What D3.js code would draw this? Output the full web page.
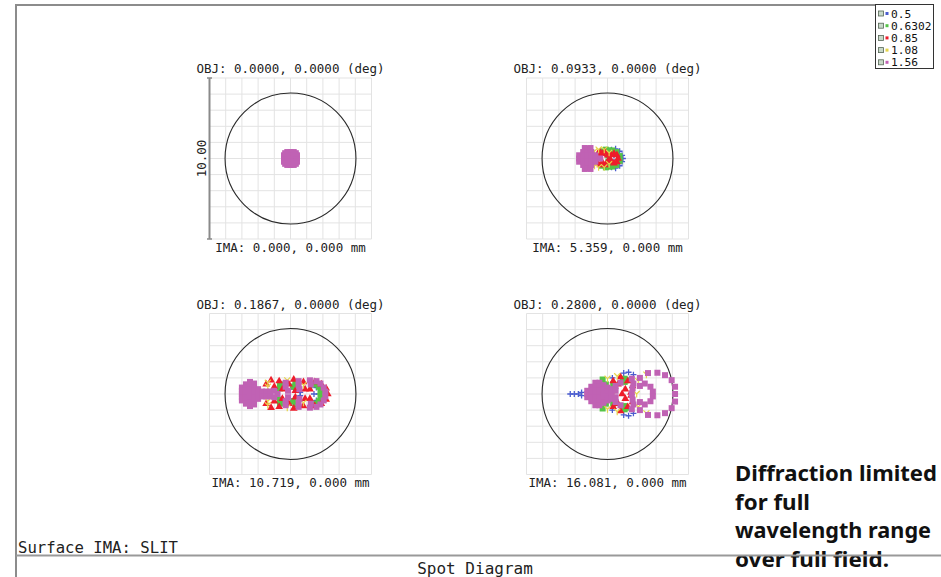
<!DOCTYPE html>
<html><head><meta charset="utf-8">
<script src="https://cdn.jsdelivr.net/npm/d3@7"></script>
<style>
html,body{margin:0;padding:0;background:#fff;}
svg{display:block;}
</style></head>
<body>
<svg id="c" width="941" height="577"></svg>
<script>
// ---------- data ----------
const wavelengths = ["0.5", "0.6302", "0.85", "1.08", "1.56"];
const objLabels = ["OBJ: 0.0000, 0.0000 (deg)", "OBJ: 0.0933, 0.0000 (deg)", "OBJ: 0.1867, 0.0000 (deg)", "OBJ: 0.2800, 0.0000 (deg)"];
const imaLabels = ["IMA: 0.000, 0.000 mm", "IMA: 5.359, 0.000 mm", "IMA: 10.719, 0.000 mm", "IMA: 16.081, 0.000 mm"];
const scaleBarLabel = "10.00";
const airyRadius = [4.04, 4.04, 4.04, 4.04];   // µm
const boxHalf = 5;                              // µm (box = 10.00 µm)
const surfaceLabel = "Surface IMA: SLIT";
const chartTitle = "Spot Diagram";
const noteLines = ["Diffraction limited", "for full", "wavelength range", "over full field."];

// spot coordinates in µm, [x, y]
const f1w1 = [[-0.2,-0.2],[0.2,-0.2],[-0.2,0.2],[0.2,0.2],[0,0]];
const f1w2 = [[-0.25,0],[0.25,0],[0,-0.25],[0,0.25],[0,0]];
const f1w3 = [[-0.3,-0.1],[0.3,0.1],[0.1,-0.3],[-0.1,0.3]];
const f1w4 = [[-0.2,0],[0.2,0],[0,0.2],[0,-0.2]];
const f1w5 = [[-0.4,-0.2],[-0.4,0],[-0.4,0.2],[-0.2,-0.4],[-0.2,-0.2],[-0.2,0],[-0.2,0.2],[-0.2,0.4],[0,-0.4],[0,-0.2],[0,0],[0,0.2],[0,0.4],[0.2,-0.4],[0.2,-0.2],[0.2,0],[0.2,0.2],[0.2,0.4],[0.4,-0.2],[0.4,0],[0.4,0.2],[-0.33,-0.33],[0.33,-0.33],[-0.33,0.33],[0.33,0.33]];

const f2w1 = [[0.25,-0.55],[0.25,0.55],[0.5,-0.6],[0.5,0.6],[0.75,-0.45],[0.75,0.45],[0.9,-0.2],[0.9,0.2],[0.95,0],[0.4,-0.2],[0.4,0.2]];
const f2w2 = [[-0.35,-0.45],[-0.35,0.45],[-0.1,-0.55],[-0.1,0.55],[0.1,-0.5],[0.1,0.5],[0.3,-0.5],[0.3,0.5],[0.55,-0.4],[0.55,0.4],[0.75,-0.15],[0.75,0.15],[0.7,0],[0.05,-0.2],[0.05,0.2]];
const f2w3 = [[-0.6,-0.3],[-0.6,0.3],[-0.45,-0.4],[-0.45,0],[-0.45,0.4],[-0.3,-0.3],[-0.3,0.3],[-0.15,-0.4],[-0.15,0.4],[0,-0.2],[0,0.2],[0.15,0],[0.22,-0.22],[0.22,0.22],[0.4,-0.3],[0.4,0.3],[0.58,-0.22],[0.58,0.22],[0.65,0]];
const f2w4 = [[-0.8,-0.45],[-0.8,0.45],[-0.55,-0.55],[-0.55,0.55],[-0.2,-0.55],[-0.2,0.55],[0.1,-0.35],[0.1,0.35]];
const f2w5 = [[-1.75,-0.2],[-1.75,0],[-1.75,0.2],[-1.5,-0.4],[-1.5,-0.2],[-1.5,0],[-1.5,0.2],[-1.5,0.4],[-1.4,-0.65],[-1.4,0.65],[-1.25,-0.6],[-1.25,-0.4],[-1.25,-0.2],[-1.25,0],[-1.25,0.2],[-1.25,0.4],[-1.25,0.6],[-1.05,-0.65],[-1.05,0.65],[-1.0,-0.4],[-1.0,-0.2],[-1.0,0],[-1.0,0.2],[-1.0,0.4],[-0.75,-0.2],[-0.75,0],[-0.75,0.2],[-0.45,0]];

const f3w1 = [[0.2,-0.6],[0.2,-0.3],[0.2,0.3],[0.2,0.6],[0.6,-0.1],[0.6,0.1],[1.3,-0.45],[1.3,0.45],[1.6,-0.4],[1.6,0.4],[1.75,0],[1.45,0]];
const f3w2 = [[-0.65,-0.6],[-0.65,-0.35],[-0.65,0.35],[-0.65,0.6],[0.15,-0.45],[0.15,0.45],[0.3,-0.65],[0.3,0.65],[1.45,-0.6],[1.45,0.6],[1.75,-0.45],[1.75,0.45],[1.85,-0.15],[1.85,0.15]];
const f3w3 = [[-1.5,-0.6],[-1.5,0.6],[-1.2,-0.85],[-1.2,0.85],[-1.0,-0.45],[-1.0,0.45],[-0.7,-0.8],[-0.7,0.8],[-0.5,-0.3],[-0.5,0.3],[-0.1,-0.6],[-0.1,0.6],[0.2,-0.9],[0.2,0.9],[0.3,-0.2],[0.3,0.2],[0.8,-0.75],[0.8,0.75],[0.9,-0.3],[0.9,0.3],[1.5,-0.75],[1.9,-0.6],[2.2,-0.35],[2.3,0],[2.2,0.35],[1.9,0.6],[1.5,0.75],[1.2,-0.3],[1.2,0.3]];
const f3w4 = [[-1.4,-0.7],[-1.4,-0.45],[-1.4,0.45],[-1.4,0.7],[-1.55,0],[-0.2,-0.85],[-0.2,0.85],[0.8,-0.55],[0.8,0.55]];
const f3w5 = [[-3.0,-0.4],[-3.0,-0.2],[-3.0,0],[-3.0,0.2],[-3.0,0.4],[-2.75,-0.6],[-2.75,-0.4],[-2.75,-0.2],[-2.75,0],[-2.75,0.2],[-2.75,0.4],[-2.75,0.6],[-2.5,-0.75],[-2.5,-0.5],[-2.5,-0.25],[-2.5,0],[-2.5,0.25],[-2.5,0.5],[-2.5,0.75],[-2.25,-0.65],[-2.25,-0.4],[-2.25,-0.2],[-2.25,0],[-2.25,0.2],[-2.25,0.4],[-2.25,0.65],[-2.0,-0.3],[-2.0,0],[-2.0,0.3],[-1.75,-0.15],[-1.75,0.15],[-1.5,-0.15],[-1.5,0.15],[-1.25,-0.15],[-1.25,0.15],[-1.0,-0.2],[-1.0,0.2],[-0.8,0],[-0.3,-0.7],[-0.3,-0.45],[-0.3,0.45],[-0.3,0.7],[-0.15,-0.2],[-0.15,0.2],[0.5,-0.8],[0.5,-0.55],[0.55,-0.3],[0.55,0.3],[0.5,0.55],[0.5,0.8],[1.2,-0.85],[1.25,-0.6],[1.25,0.6],[1.2,0.85],[1.6,-0.8],[1.85,-0.65],[2.05,-0.4],[2.15,-0.15],[2.15,0.15],[2.05,0.4],[1.85,0.65],[1.6,0.8]];

const f4w1 = [[-2.3,0],[-2.05,0],[-1.8,0],[-1.6,-0.1],[-1.6,0.1],[1.0,-1.3],[1.3,-1.35],[1.6,-1.2],[1.0,1.3],[1.3,1.35],[1.6,1.2],[0.3,-1.0],[0.3,1.0]];
const f4w2 = [[1.06,-0.95],[1.06,-0.75],[0.95,-0.85],[1.15,-0.85],[1.06,0.95],[1.06,0.75],[0.95,0.85],[1.15,0.85],[0.2,-0.3],[0.2,0.3],[0.35,-0.6],[0.35,0.6],[-0.3,-0.9],[-0.3,0.9],[-0.1,-0.6],[-0.1,0.6]];
const f4w3 = [[0.35,-0.8],[0.65,-0.6],[1.25,-0.8],[1.55,-0.5],[1.1,-0.3],[1.1,0.3],[0.35,0.8],[0.65,0.6],[1.25,0.8],[1.55,0.5],[0.8,-1.05],[0.8,1.05],[0.9,0],[1.45,0.1],[1.45,-0.1]];
const f4w4 = [[0.0,-0.95],[0.0,0.95],[0.6,-1.1],[0.6,1.1],[1.9,-0.8],[1.9,0.8],[2.4,-1.2],[2.4,1.2],[1.8,0],[0.4,0]];
const f4w5 = [[-1.25,-0.2],[-1.25,0],[-1.25,0.2],[-1.0,-0.45],[-1.0,-0.2],[-1.0,0],[-1.0,0.2],[-1.0,0.45],[-0.75,-0.7],[-0.75,-0.45],[-0.75,-0.2],[-0.75,0],[-0.75,0.2],[-0.75,0.45],[-0.75,0.7],[-0.5,-0.7],[-0.5,-0.45],[-0.5,-0.2],[-0.5,0],[-0.5,0.2],[-0.5,0.45],[-0.5,0.7],[-0.25,-0.55],[-0.25,-0.3],[-0.25,0],[-0.25,0.3],[-0.25,0.55],[0.0,-0.4],[0.0,-0.15],[0.0,0.15],[0.0,0.4],[0.25,-0.3],[0.25,0],[0.25,0.3],[0.5,-0.5],[0.5,-0.2],[0.5,0.2],[0.5,0.5],[0.8,-0.7],[0.8,0.7],[1.5,-0.95],[1.6,-0.65],[1.55,-0.35],[1.5,0],[1.55,0.35],[1.6,0.65],[1.5,0.95],[2.0,-0.5],[2.3,-0.65],[2.65,-0.45],[2.8,-0.15],[2.8,0.15],[2.65,0.45],[2.3,0.65],[2.0,0.5],[2.5,-1.3],[3.08,-1.32],[3.55,-1.17],[3.96,-0.86],[4.17,-0.45],[4.17,0],[4.17,0.47],[3.96,0.88],[3.55,1.19],[3.08,1.32],[2.5,1.3],[2.0,-1.0],[2.0,1.0]];

const fieldSpots = [[f1w1,f1w2,f1w3,f1w4,f1w5],[f2w1,f2w2,f2w3,f2w4,f2w5],[f3w1,f3w2,f3w3,f3w4,f3w5],[f4w1,f4w2,f4w3,f4w4,f4w5]];

// ---------- styles / layout ----------
const colors = ["#4a5ccf", "#55c447", "#ee1d2b", "#e6d54a", "#c062b4"];
const mono = "'DejaVu Sans Mono', monospace";
const centers = [[290.5,158.5],[607.5,158.5],[290.5,394],[607.5,394]];
const halfW = 81, halfH = 80.5;

const svg = d3.select("#c");

// frame lines
svg.append("path").attr("d","M16,5H875").attr("stroke","#8c8c8c").attr("stroke-width",2).attr("fill","none");
svg.append("path").attr("d","M16,4V577").attr("stroke","#8c8c8c").attr("stroke-width",2).attr("fill","none");

function marker(g, type, px, py, col){
  if(type===0){ // plus
    g.append("path").attr("d",`M${px-3},${py}h6M${px},${py-3}v6`).attr("stroke",col).attr("stroke-width",1.3).attr("fill","none");
  } else if(type===1){
    g.append("rect").attr("x",px-3).attr("y",py-3).attr("width",6).attr("height",6).attr("fill",col);
  } else if(type===2){
    g.append("path").attr("d",d3.symbol(d3.symbolTriangle, 26)()).attr("transform",`translate(${px},${py})`).attr("fill",col);
  } else if(type===3){
    g.append("path").attr("d",`M${px-3},${py-3}L${px},${py}L${px+3},${py-3}M${px},${py}v3.5`).attr("stroke",col).attr("stroke-width",1.2).attr("fill","none");
  } else {
    g.append("rect").attr("x",px-3).attr("y",py-3).attr("width",6).attr("height",6).attr("fill",col);
  }
}

centers.forEach((c,i)=>{
  const [cx,cy] = c;
  const x = d3.scaleLinear().domain([-boxHalf,boxHalf]).range([cx-halfW,cx+halfW]);
  const y = d3.scaleLinear().domain([-boxHalf,boxHalf]).range([cy-halfH,cy+halfH]);
  const g = svg.append("g");
  const ticks = d3.range(-boxHalf, boxHalf+0.001, 1);
  // grid
  g.selectAll(".gv").data(ticks).join("line")
    .attr("x1",d=>x(d)).attr("x2",d=>x(d)).attr("y1",y(-boxHalf)).attr("y2",y(boxHalf))
    .attr("stroke","#e3e3e3").attr("stroke-width",1);
  g.selectAll(".gh").data(ticks).join("line")
    .attr("y1",d=>y(d)).attr("y2",d=>y(d)).attr("x1",x(-boxHalf)).attr("x2",x(boxHalf))
    .attr("stroke","#e3e3e3").attr("stroke-width",1);
  // airy circle
  g.append("circle").attr("cx",x(0)).attr("cy",y(0)).attr("r",x(airyRadius[i])-x(0))
    .attr("fill","none").attr("stroke","#2a2a2a").attr("stroke-width",1.1);
  // spots
  fieldSpots[i].forEach((pts,w)=>{
    pts.forEach(p=>marker(g,w,x(p[0]),y(p[1]),colors[w]));
  });
  // labels
  g.append("text").attr("x",cx).attr("y",cy-85.5).attr("text-anchor","middle")
    .attr("font-family",mono).attr("font-size",12.5).attr("fill","#222").text(objLabels[i]);
  g.append("text").attr("x",cx).attr("y",cy+93).attr("text-anchor","middle")
    .attr("font-family",mono).attr("font-size",12.5).attr("fill","#222").text(imaLabels[i]);
  if(i===0){
    const ax = x(-boxHalf);
    g.append("line").attr("x1",ax).attr("x2",ax).attr("y1",y(-boxHalf)).attr("y2",y(boxHalf))
      .attr("stroke","#8a8a8a").attr("stroke-width",2);
    [-boxHalf,boxHalf].forEach(v=>{
      g.append("line").attr("x1",ax-2.5).attr("x2",ax+2.5).attr("y1",y(v)).attr("y2",y(v))
        .attr("stroke","#8a8a8a").attr("stroke-width",1.5);
    });
    g.append("text").attr("transform",`translate(${ax-4},${y(0)}) rotate(-90)`)
      .attr("text-anchor","middle").attr("font-family",mono).attr("font-size",12.5).attr("fill","#222")
      .text(scaleBarLabel);
  }
});

// legend
const lg = svg.append("g");
lg.append("rect").attr("x",875.5).attr("y",4.5).attr("width",58).attr("height",64)
  .attr("fill","#fff").attr("stroke","#333").attr("stroke-width",1);
wavelengths.forEach((w,i)=>{
  const yy = 13.5 + i*12.2;
  lg.append("rect").attr("x",878.5).attr("y",yy-2.5).attr("width",5).attr("height",5)
    .attr("fill","#c8d8c8").attr("stroke","#556655").attr("stroke-width",0.8);
  lg.append("rect").attr("x",885.5).attr("y",yy-1.5).attr("width",3).attr("height",3).attr("fill",colors[i]);
  lg.append("text").attr("x",891).attr("y",yy+4).attr("font-family",mono).attr("font-size",11.2)
    .attr("fill","#111").text(w);
});

// bottom texts
svg.append("text").attr("x",18).attr("y",553).attr("font-family",mono).attr("font-size",15)
  .attr("fill","#222").attr("textLength",160).attr("lengthAdjust","spacingAndGlyphs").text(surfaceLabel);
svg.append("text").attr("x",475).attr("y",574).attr("text-anchor","middle").attr("font-family",mono).attr("font-size",16)
  .attr("fill","#222").text(chartTitle);

const noteBase = [481, 509.5, 538, 566.5];
const noteLen = [202, 75, 196, 154];
noteLines.forEach((t,i)=>{
  svg.append("text").attr("x",735).attr("y",noteBase[i]).attr("font-family","'Noto Sans', sans-serif")
    .attr("font-weight","bold").attr("font-size",21).attr("fill","#111")
    .attr("textLength",noteLen[i]).attr("lengthAdjust","spacingAndGlyphs").text(t);
});
svg.append("path").attr("d","M16,555.5H941").attr("stroke","#999").attr("stroke-width",2).attr("fill","none");
</script>
</body></html>
